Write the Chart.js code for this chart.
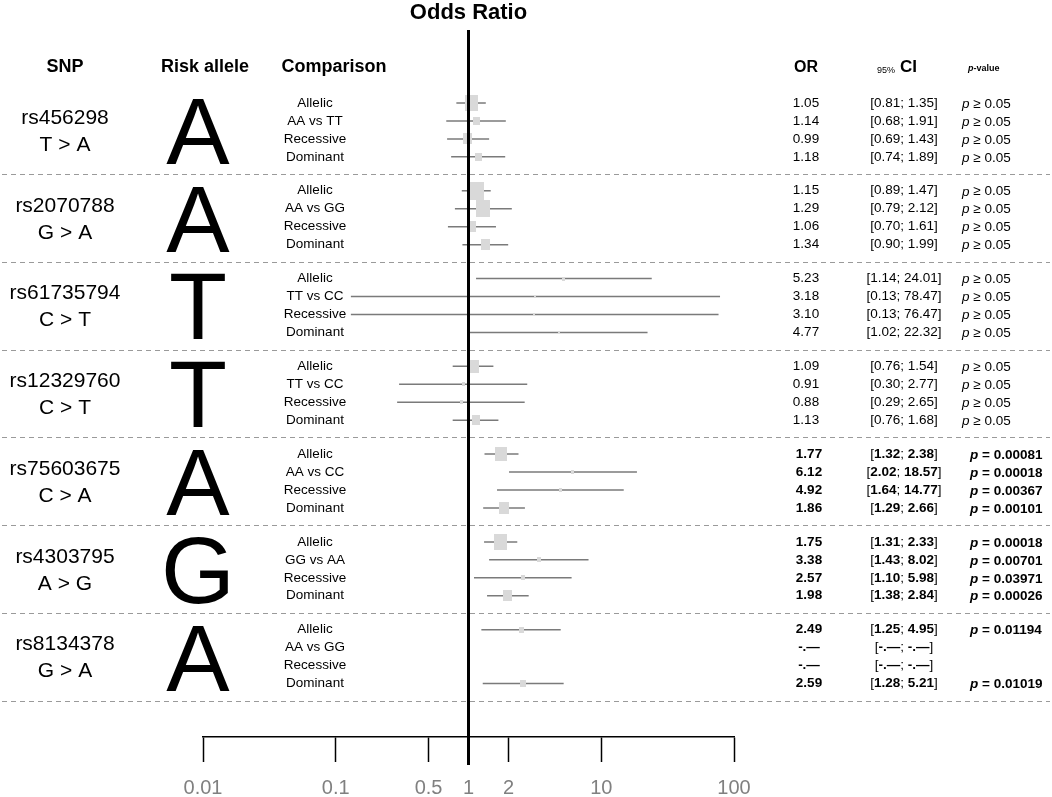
<!DOCTYPE html>
<html>
<head>
<meta charset="utf-8">
<title>Odds Ratio forest plot</title>
<script src="https://cdn.jsdelivr.net/npm/chart.js@4.4.1/dist/chart.umd.min.js"></script>
<style>
  html, body { margin: 0; padding: 0; background: #fff; }
  #wrap { position: relative; width: 1052px; height: 797px; }
</style>
</head>
<body>
<div id="wrap"><canvas id="forest"></canvas></div>
<script>
// --- data ---
const snps = ["rs456298", "rs2070788", "rs61735794", "rs12329760", "rs75603675", "rs4303795", "rs8134378"];
const changes = ["T > A", "G > A", "C > T", "C > T", "C > A", "A > G", "G > A"];
const riskAllele = ["A", "A", "T", "T", "A", "G", "A"];
const comparisons = [
  ["Allelic", "AA vs TT", "Recessive", "Dominant"],
  ["Allelic", "AA vs GG", "Recessive", "Dominant"],
  ["Allelic", "TT vs CC", "Recessive", "Dominant"],
  ["Allelic", "TT vs CC", "Recessive", "Dominant"],
  ["Allelic", "AA vs CC", "Recessive", "Dominant"],
  ["Allelic", "GG vs AA", "Recessive", "Dominant"],
  ["Allelic", "AA vs GG", "Recessive", "Dominant"]
];
const orValues = [
  [1.05, 1.14, 0.99, 1.18],
  [1.15, 1.29, 1.06, 1.34],
  [5.23, 3.18, 3.10, 4.77],
  [1.09, 0.91, 0.88, 1.13],
  [1.77, 6.12, 4.92, 1.86],
  [1.75, 3.38, 2.57, 1.98],
  [2.49, null, null, 2.59]
];
const ciLow = [
  [0.81, 0.68, 0.69, 0.74],
  [0.89, 0.79, 0.70, 0.90],
  [1.14, 0.13, 0.13, 1.02],
  [0.76, 0.30, 0.29, 0.76],
  [1.32, 2.02, 1.64, 1.29],
  [1.31, 1.43, 1.10, 1.38],
  [1.25, null, null, 1.28]
];
const ciHigh = [
  [1.35, 1.91, 1.43, 1.89],
  [1.47, 2.12, 1.61, 1.99],
  [24.01, 78.47, 76.47, 22.32],
  [1.54, 2.77, 2.65, 1.68],
  [2.38, 18.57, 14.77, 2.66],
  [2.33, 8.02, 5.98, 2.84],
  [4.95, null, null, 5.21]
];
const pValues = [
  ["≥ 0.05", "≥ 0.05", "≥ 0.05", "≥ 0.05"],
  ["≥ 0.05", "≥ 0.05", "≥ 0.05", "≥ 0.05"],
  ["≥ 0.05", "≥ 0.05", "≥ 0.05", "≥ 0.05"],
  ["≥ 0.05", "≥ 0.05", "≥ 0.05", "≥ 0.05"],
  ["= 0.00081", "= 0.00018", "= 0.00367", "= 0.00101"],
  ["= 0.00018", "= 0.00701", "= 0.03971", "= 0.00026"],
  ["= 0.01194", "", "", "= 0.01019"]
];
// relative study weight (drives box size)
const boxWeight = [
  [13, 7, 9, 7],
  [15, 14, 9, 9],
  [3, 2, 2, 2],
  [11, 3, 3, 8],
  [12, 3, 3, 10],
  [13, 4, 4, 9],
  [5, 0, 0, 6]
];
const xTicks = [0.01, 0.1, 0.5, 1, 2, 10, 100];

// --- layout ---
const FONT = "'Liberation Sans', Arial, Helvetica, sans-serif";
const GROUP_PITCH = 4.89;   // rows per SNP block incl. gap
const rowPos = (g, r) => g * GROUP_PITCH + r;

const boxCache = {};
function boxImage(w) {
  if (!boxCache[w]) {
    const c = document.createElement("canvas");
    c.width = w;
    c.height = Math.round(w * 1.2);
    const cx = c.getContext("2d");
    cx.fillStyle = "#d9d9d9";
    cx.fillRect(0, 0, c.width, c.height);
    boxCache[w] = c;
  }
  return boxCache[w];
}

const ciDatasets = [];
const boxPoints = [];
snps.forEach((snp, g) => {
  orValues[g].forEach((or, r) => {
    if (or == null) return;
    ciDatasets.push({
      type: "line",
      data: [{ x: ciLow[g][r], y: rowPos(g, r) }, { x: ciHigh[g][r], y: rowPos(g, r) }],
      borderColor: "#7a7a7a",
      borderWidth: 1.5,
      pointRadius: 0,
      order: 2
    });
    boxPoints.push({ x: or, y: rowPos(g, r), w: boxWeight[g][r] });
  });
});

const isBoldGroup = (g) => pValues[g].some((p) => p.startsWith("="));

function drawP(ctx, txt, x, y, bold) {
  const w = bold ? "bold " : "";
  ctx.textAlign = "left";
  ctx.font = `italic ${w}13.5px ${FONT}`;
  ctx.fillText("p", x, y);
  const pw = ctx.measureText("p").width;
  ctx.font = `${w}13.5px ${FONT}`;
  ctx.fillText(" " + txt, x + pw, y);
}

// CI text: brackets regular, numbers bold when significant
function drawCI(ctx, parts, cx, y, bold) {
  const fonts = parts.map((p, i) => (bold && i % 2 === 1 ? "bold " : "") + `13.5px ${FONT}`);
  let total = 0;
  const widths = parts.map((p, i) => {
    ctx.font = fonts[i];
    const w = ctx.measureText(p).width;
    total += w;
    return w;
  });
  let x = cx - total / 2;
  ctx.textAlign = "left";
  parts.forEach((p, i) => {
    ctx.font = fonts[i];
    ctx.fillText(p, x, y);
    x += widths[i];
  });
}

const tablePlugin = {
  id: "forestTable",
  beforeDatasetsDraw(chart) {
    const { ctx, scales: { y } } = chart;
    ctx.save();
    ctx.strokeStyle = "#9a9a9a";
    ctx.lineWidth = 1;
    ctx.setLineDash([5, 4]);
    snps.forEach((s, g) => {
      const py = Math.round(y.getPixelForValue(rowPos(g, 3.955))) + 0.5;
      ctx.beginPath();
      ctx.moveTo(2, py);
      ctx.lineTo(1050, py);
      ctx.stroke();
    });
    ctx.restore();
  },
  afterDatasetsDraw(chart) {
    const { ctx, chartArea, scales: { x } } = chart;
    const px = x.getPixelForValue(1);
    ctx.save();
    ctx.strokeStyle = "#000";
    ctx.lineWidth = 3;
    ctx.beginPath();
    ctx.moveTo(px, chartArea.top);
    ctx.lineTo(px, chartArea.bottom + 28);
    ctx.stroke();
    ctx.restore();
  },
  afterDraw(chart) {
    const { ctx, scales: { y } } = chart;
    const yp = (v) => y.getPixelForValue(v);
    ctx.save();
    ctx.fillStyle = "#000";
    ctx.textBaseline = "middle";

    // headers
    const hy = yp(-2);
    ctx.font = `bold 18px ${FONT}`;
    ctx.textAlign = "center";
    ctx.fillText("SNP", 65, hy);
    ctx.fillText("Risk allele", 205, hy);
    ctx.fillText("Comparison", 334, hy);
    ctx.font = `bold 16px ${FONT}`;
    ctx.fillText("OR", 806, hy);
    ctx.textAlign = "left";
    ctx.font = `9px ${FONT}`;
    ctx.fillText("95%", 877, hy + 3);
    ctx.font = `bold 17px ${FONT}`;
    ctx.fillText("CI", 900, hy);
    ctx.font = `italic bold 9px ${FONT}`;
    ctx.fillText("p", 968, hy + 1);
    const pw = ctx.measureText("p").width;
    ctx.font = `bold 9px ${FONT}`;
    ctx.fillText("-value", 968 + pw, hy + 1);

    snps.forEach((snp, g) => {
      const mid = yp(rowPos(g, 1.5));
      const bold = isBoldGroup(g);
      ctx.textAlign = "center";
      ctx.font = `21px ${FONT}`;
      ctx.fillText(snp, 65, mid - 12);
      ctx.fillText(changes[g], 65, mid + 15);

      ctx.save();
      ctx.textBaseline = "alphabetic";
      ctx.font = `95px ${FONT}`;
      ctx.fillText(riskAllele[g], 198, mid + 34);
      ctx.restore();

      comparisons[g].forEach((label, r) => {
        const ry = yp(rowPos(g, r));
        const or = orValues[g][r];
        ctx.textAlign = "center";
        ctx.font = `13.5px ${FONT}`;
        ctx.fillText(label, 315, ry);

        ctx.font = `${bold ? "bold " : ""}13.5px ${FONT}`;
        ctx.fillText(or == null ? "-.\u2014" : or.toFixed(2), bold ? 809 : 806, ry);
        const ci = or == null
          ? ["[", "-.\u2014", "; ", "-.\u2014", "]"]
          : ["[", ciLow[g][r].toFixed(2), "; ", ciHigh[g][r].toFixed(2), "]"];
        drawCI(ctx, ci, 904, ry, bold);

        if (pValues[g][r]) drawP(ctx, pValues[g][r], bold ? 970 : 962, ry + 1, bold);
      });
    });
    ctx.restore();
  }
};

new Chart(document.getElementById("forest"), {
  type: "scatter",
  data: {
    datasets: [
      {
        type: "scatter",
        data: boxPoints,
        pointStyle: (c) => (c.raw ? boxImage(c.raw.w) : "rect"),
        pointRadius: 6,
        backgroundColor: "#d9d9d9",
        borderWidth: 0,
        order: 0
      },
      ...ciDatasets
    ]
  },
  options: {
    responsive: true,
    maintainAspectRatio: false,
    animation: false,
    events: [],
    layout: { padding: { left: 203, right: 318, top: 0, bottom: 0 } },
    plugins: {
      legend: { display: false },
      tooltip: { enabled: false },
      title: {
        display: true,
        text: "Odds Ratio",
        fullSize: false,
        color: "#000",
        font: { family: FONT, size: 22, weight: "bold", lineHeight: 1 },
        padding: { top: 2, bottom: 6 }
      }
    },
    scales: {
      x: {
        type: "logarithmic",
        position: "bottom",
        min: 0.01,
        max: 100,
        afterBuildTicks: (scale) => {
          scale.ticks = xTicks.map((v) => ({ value: v }));
        },
        afterFit: (scale) => {
          scale.height = 60;
        },
        grid: {
          display: true,
          drawOnChartArea: false,
          drawTicks: true,
          tickLength: 25,
          tickColor: "#000",
          tickWidth: 1.5
        },
        border: { display: true, color: "#000", width: 1.5 },
        ticks: {
          autoSkip: false,
          maxRotation: 0,
          padding: 14,
          color: "#808080",
          font: { family: FONT, size: 20 },
          callback: (v) => String(v)
        }
      },
      y: {
        type: "linear",
        reverse: true,
        display: false,
        min: -4.067,
        max: 35.32
      }
    }
  },
  plugins: [tablePlugin]
});
</script>
</body>
</html>
